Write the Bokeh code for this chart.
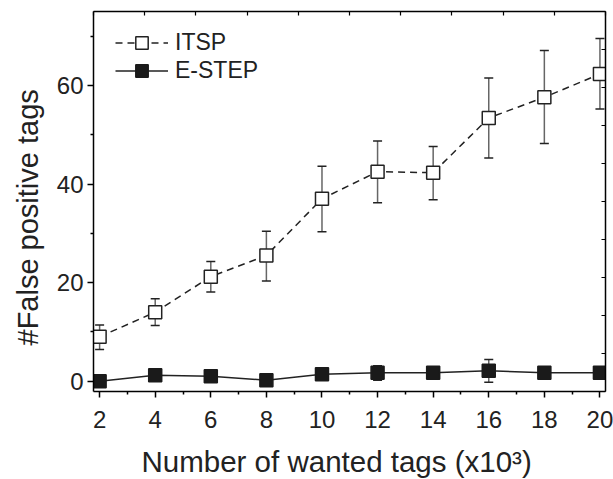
from bokeh.plotting import figure
from bokeh.models import (ColumnDataSource, Whisker, TeeHead, LinearAxis, Range1d,
                          FixedTicker, Legend, LegendItem, Title)
from bokeh.embed import file_html
from bokeh.resources import INLINE

# ---- data ----
tags = [2, 4, 6, 8, 10, 12, 14, 16, 18, 20]
itsp = [9.0, 14.0, 21.2, 25.5, 37.0, 42.5, 42.3, 53.4, 57.6, 62.3]
itsp_upper = [11.4, 16.7, 24.3, 30.4, 43.6, 48.7, 47.6, 61.5, 67.1, 69.5]
itsp_lower = [6.4, 11.3, 18.1, 20.3, 30.3, 36.2, 36.8, 45.3, 48.2, 55.2]
estep = [0.0, 1.2, 1.0, 0.2, 1.4, 1.7, 1.7, 2.1, 1.7, 1.7]
estep_upper = [0.4, 1.7, 1.5, 0.6, 2.0, 3.1, 2.2, 4.4, 2.1, 2.1]
estep_lower = [-0.4, 0.7, 0.5, -0.2, 0.8, 0.2, 1.2, -0.2, 1.3, 1.3]
x_major = [2, 4, 6, 8, 10, 12, 14, 16, 18, 20]
x_minor = [3, 5, 7, 9, 11, 13, 15, 17, 19]
y_major = [0, 20, 40, 60]
y_minor = [10, 30, 50, 70]
opp_ticks = [0, 1, 2, 3, 4, 5, 6, 7, 8, 9, 10]
x_title = "Number of wanted tags (x10\u00b3)"
y_title = "#False positive tags"

FONT = "Liberation Sans"
TXT = "#222222"

p = figure(width=613, height=479, frame_width=512, frame_height=380,
           output_backend="svg", toolbar_location=None,
           x_range=(1.78, 20.2), y_range=(-2.1, 75.0),
           min_border_left=93, min_border_right=8, min_border_top=11, min_border_bottom=88)
p.grid.visible = False
p.outline_line_color = None
p.background_fill_color = "white"
p.border_fill_color = "white"

p.extra_x_ranges = {"top": Range1d(0, 10)}
p.extra_y_ranges = {"right": Range1d(0, 10)}

for ax in (p.xaxis[0], p.yaxis[0]):
    ax.axis_line_width = 1.5
    ax.axis_line_color = "black"
    ax.major_tick_line_width = 1.5
    ax.minor_tick_line_width = 1.5
    ax.major_tick_line_color = "black"
    ax.minor_tick_line_color = "black"
    ax.major_tick_in = 0
    ax.major_tick_out = 6
    ax.minor_tick_in = 0
    ax.minor_tick_out = 3
    ax.major_label_text_font = FONT
    ax.major_label_text_font_size = "24px"
    ax.major_label_text_color = TXT

p.xaxis[0].ticker = FixedTicker(ticks=x_major, minor_ticks=x_minor)
p.yaxis[0].ticker = FixedTicker(ticks=y_major, minor_ticks=y_minor)
p.xaxis[0].major_label_standoff = 13
p.yaxis[0].major_label_standoff = 4

top = LinearAxis(x_range_name="top", ticker=FixedTicker(ticks=[], minor_ticks=opp_ticks),
                 major_tick_in=0, major_tick_out=0, minor_tick_in=4, minor_tick_out=0,
                 axis_line_width=1.5, minor_tick_line_width=1.2, minor_tick_line_color="black")
right = LinearAxis(y_range_name="right", ticker=FixedTicker(ticks=[], minor_ticks=opp_ticks),
                   major_tick_in=0, major_tick_out=0, minor_tick_in=4, minor_tick_out=0,
                   axis_line_width=1.5, minor_tick_line_width=1.2, minor_tick_line_color="black")
p.add_layout(top, "above")
p.add_layout(right, "right")

src_i = ColumnDataSource(dict(x=tags, y=itsp, upper=itsp_upper, lower=itsp_lower))
src_e = ColumnDataSource(dict(x=tags, y=estep, upper=estep_upper, lower=estep_lower))

for src in (src_i, src_e):
    w = Whisker(source=src, base="x", upper="upper", lower="lower",
                line_color="#666666", line_width=1.5, level="underlay",
                upper_head=TeeHead(size=9, line_color="#222222", line_width=1.5),
                lower_head=TeeHead(size=9, line_color="#222222", line_width=1.5))
    p.add_layout(w)

l1 = p.line("x", "y", source=src_i, line_color="#222222", line_width=1.5, line_dash="7 5")
s1 = p.scatter("x", "y", source=src_i, marker="square", size=13, fill_color="white",
               line_color="#222222", line_width=1.5)
l2 = p.line("x", "y", source=src_e, line_color="#222222", line_width=1.5)
s2 = p.scatter("x", "y", source=src_e, marker="square", size=13, fill_color="#1a1a1a",
               line_color="#1a1a1a", line_width=1.5)

leg_kw = dict(padding=0, margin=0, spacing=0, glyph_width=53, glyph_height=31,
              label_height=31, label_standoff=7, label_text_font=FONT,
              label_text_font_size="23px", label_text_color=TXT,
              border_line_color=None, background_fill_alpha=0)
leg1 = Legend(items=[LegendItem(label="ITSP", renderers=[l1, s1])], location=(22, 333), **leg_kw)
leg2 = Legend(items=[LegendItem(label="E-STEP", renderers=[l2, s2])], location=(22, 305), **leg_kw)
p.add_layout(leg1)
p.add_layout(leg2)

xt = Title(text=x_title, align="left", offset=48, vertical_align="top", standoff=28,
           text_font=FONT, text_font_size="29.5px", text_font_style="normal", text_color=TXT)
yt = Title(text=y_title, align="left", offset=46, vertical_align="top", standoff=16,
           text_font=FONT, text_font_size="29px", text_font_style="normal", text_color=TXT)
p.add_layout(xt, "below")
p.add_layout(yt, "left")

open("out.html", "w").write(file_html(p, INLINE))
